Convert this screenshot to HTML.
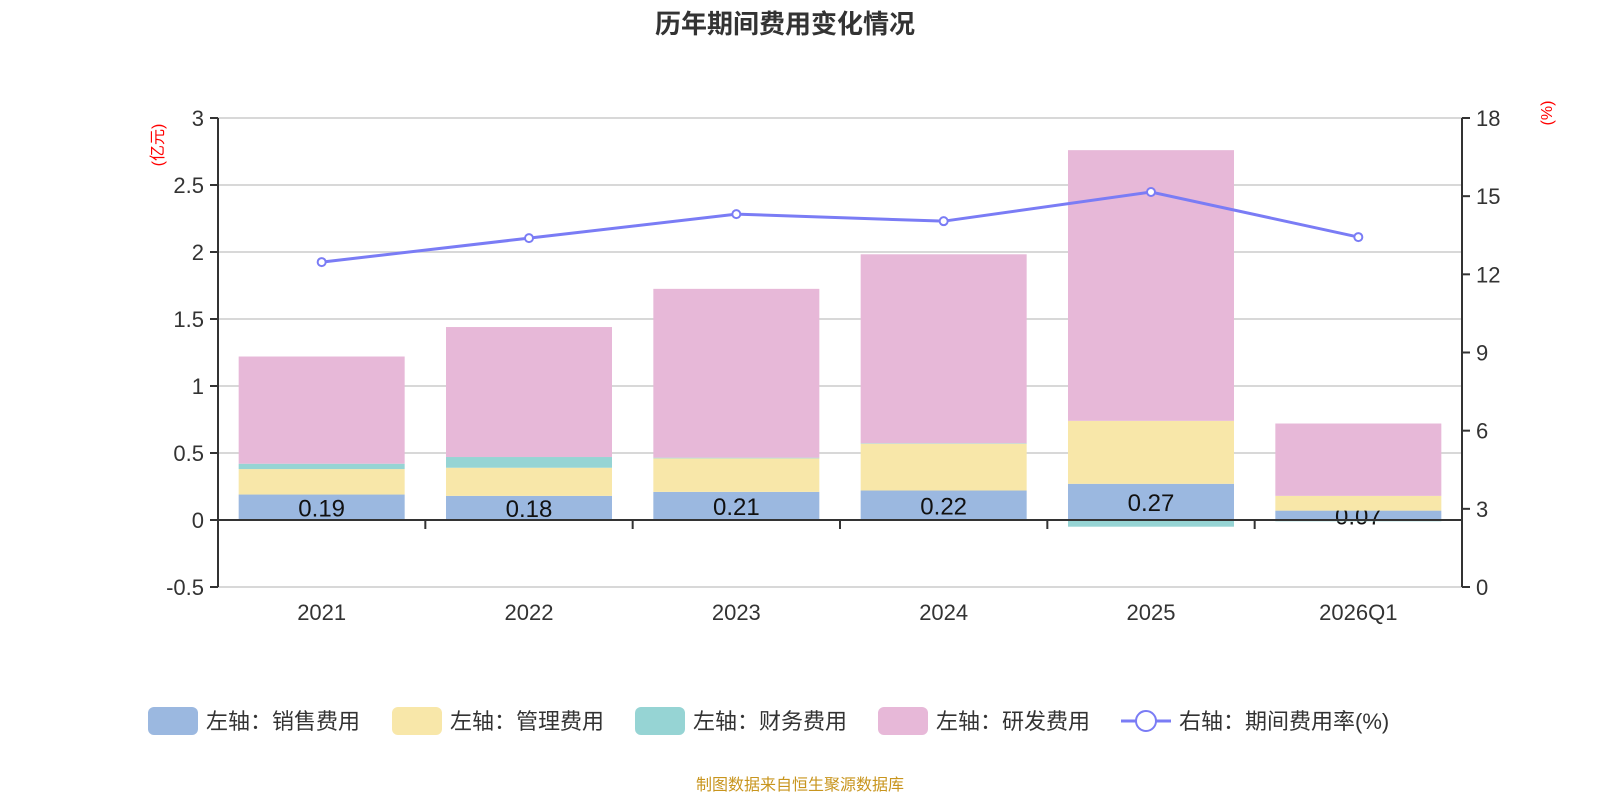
<!DOCTYPE html>
<html><head><meta charset="utf-8">
<style>
body{margin:0;background:#fff;}
svg text{font-family:"Liberation Sans","Noto Sans CJK SC",sans-serif;}
</style></head>
<body>
<svg id="c" width="1600" height="800" xmlns="http://www.w3.org/2000/svg">
<text x="785" y="33" text-anchor="middle" font-size="26" font-weight="bold" fill="#333">历年期间费用变化情况</text>
<text x="800" y="790" text-anchor="middle" font-size="16" fill="#c8951e">制图数据来自恒生聚源数据库</text>
<text transform="translate(163,145) rotate(-90)" text-anchor="middle" font-size="16" fill="red">(亿元)</text>
<text transform="translate(1552,113) rotate(-90)" text-anchor="middle" font-size="16" fill="red">(%)</text>
<g id="grid"></g><g id="bars"></g><g id="axes"></g><g id="line"></g><g id="legend"></g>
</svg>
<script>
const categories=["2021","2022","2023","2024","2025","2026Q1"];
const sales=[0.19,0.18,0.21,0.22,0.27,0.07];
const mgmt=[0.19,0.21,0.25,0.35,0.47,0.11];
const fin=[0.04,0.08,0.005,0.003,-0.05,-0.01];
const rd=[0.80,0.97,1.26,1.41,2.02,0.54];
const rate=[12.47,13.39,14.31,14.04,15.16,13.43];
const leftTicks=[-0.5,0,0.5,1,1.5,2,2.5,3];
const rightTicks=[0,3,6,9,12,15,18];
const NS="http://www.w3.org/2000/svg";
const X0=218,X1=1462,band=(X1-X0)/categories.length,bw=166;
const yL=v=>520-v*134;
const yR=v=>587-v*(469/18);
const xc=i=>X0+band*(i+0.5);
function mk(p,tag,a){const e=document.createElementNS(NS,tag);for(const k in a)e.setAttribute(k,a[k]);document.getElementById(p).appendChild(e);return e;}
leftTicks.forEach(t=>{
 if(t!==0){const g=mk('grid','line',{x1:X0,x2:X1,y1:yL(t),y2:yL(t),stroke:'#ccc','stroke-width':1.5});
 
 }
 const tk=mk('axes','line',{x1:X0-8,x2:X0,y1:yL(t),y2:yL(t),stroke:'#333','stroke-width':2});
 
 
 const tx=mk('axes','text',{x:X0-14,y:yL(t)+8,'text-anchor':'end','font-size':22,fill:'#333'});tx.textContent=t;
 
 
});
rightTicks.forEach(t=>{
 const tk=mk('axes','line',{x1:X1,x2:X1+8,y1:yR(t),y2:yR(t),stroke:'#333','stroke-width':2});
 
 
 const tx=mk('axes','text',{x:X1+14,y:yR(t)+8,'font-size':22,fill:'#333'});tx.textContent=t;
 
 
});
let a=mk('axes','line',{x1:X0,x2:X0,y1:yL(3),y2:yL(-0.5),stroke:'#333','stroke-width':2});

a=mk('axes','line',{x1:X1,x2:X1,y1:yR(18),y2:yR(0),stroke:'#333','stroke-width':2});

a=mk('axes','line',{x1:X0,x2:X1,y1:yL(0),y2:yL(0),stroke:'#333','stroke-width':2});

categories.forEach((c,i)=>{
 const tk=mk('axes','line',{x1:X0+band*i,x2:X0+band*i,y1:yL(0),y2:yL(0)+9,stroke:'#333','stroke-width':2});
 
 
 const tx=mk('axes','text',{x:xc(i),y:620,'text-anchor':'middle','font-size':22,fill:'#333'});tx.textContent=c;
 
 
});
const series=[[sales,'#9bb8e0','sales'],[mgmt,'#f8e7a9','mgmt'],[fin,'#96d4d4','fin'],[rd,'#e7b8d8','rd']];
categories.forEach((c,i)=>{
 let pos=0,neg=0;
 series.forEach(([arr,col,nm],si)=>{
  const v=arr[i];let y0,y1;
  if(v>=0){y0=pos;pos+=v;y1=pos;}else{y0=neg;neg+=v;y1=neg;}
  const top=yL(Math.max(y0,y1)),bot=yL(Math.min(y0,y1));
  const r=mk('bars','rect',{x:xc(i)-bw/2,y:top,width:bw,height:Math.max(bot-top,0.5),fill:col});
  
  
  if(si===0){
   const t=mk('bars','text',{x:xc(i),y:(top+bot)/2+9,'text-anchor':'middle','font-size':24,fill:'#111'});t.textContent=v.toFixed(2);
   
   
  }
 });
});
const pts=rate.map((v,i)=>xc(i)+','+yR(v)).join(' ');
const pl=mk('line','polyline',{points:pts,fill:'none',stroke:'#7a7cf5','stroke-width':3});


rate.forEach((v,i)=>{
 const p=mk('line','circle',{cx:xc(i),cy:yR(v),r:4,fill:'#fff',stroke:'#7a7cf5','stroke-width':2});
 
 
});
const leg=[['左轴：销售费用','#9bb8e0',148],['左轴：管理费用','#f8e7a9',392],['左轴：财务费用','#96d4d4',635],['左轴：研发费用','#e7b8d8',878]];
leg.forEach(([t,col,x])=>{
 const r=mk('legend','rect',{x:x,y:707,width:50,height:28,rx:6,fill:col});
 
 
 const tx=mk('legend','text',{x:x+58,y:729,'font-size':22,fill:'#333'});tx.textContent=t;
 
 
});
let l=mk('legend','line',{x1:1121,x2:1171,y1:721,y2:721,stroke:'#7a7cf5','stroke-width':3});

l=mk('legend','circle',{cx:1146,cy:721,r:10,fill:'#fff',stroke:'#7a7cf5','stroke-width':2});

l=mk('legend','text',{x:1179,y:729,'font-size':22,fill:'#333'});l.textContent='右轴：期间费用率(%)';

</script>
</body></html>
